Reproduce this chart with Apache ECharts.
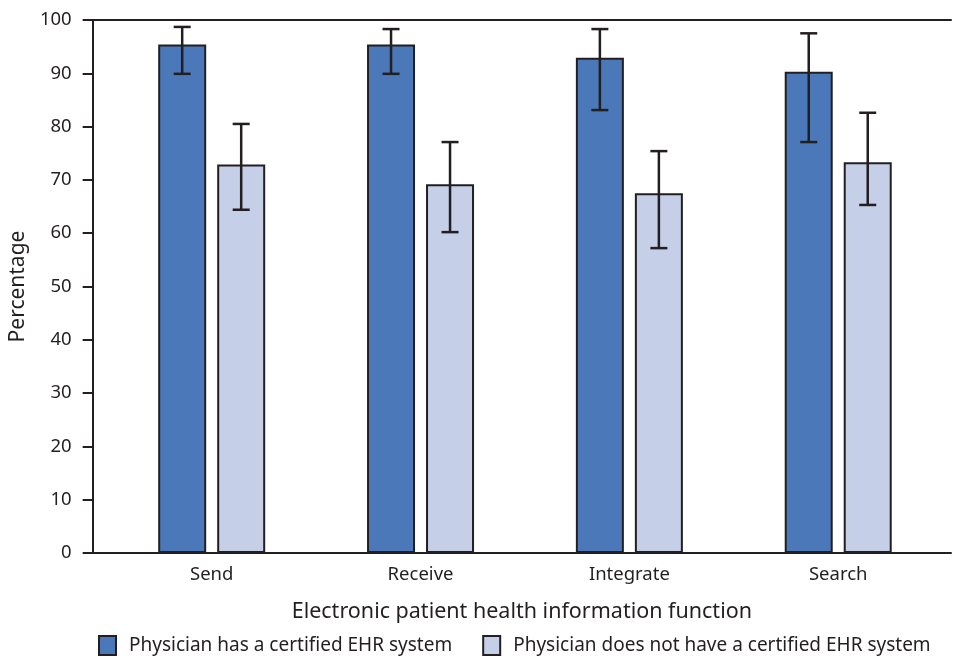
<!DOCTYPE html>
<html>
<head>
<meta charset="utf-8">
<script src="https://cdn.jsdelivr.net/npm/echarts@6/dist/echarts.min.js"></script>
<style>html,body{margin:0;padding:0;background:#fff;}#c{width:953px;height:658px;}</style>
</head>
<body>
<div id="c"></div>
<script>
var categories = ['Send', 'Receive', 'Integrate', 'Search'];
var hasEHR = [95.4, 95.4, 92.9, 90.3];
var hasEHRLow = [89.9, 89.9, 83.1, 77.1];
var hasEHRHigh = [98.7, 98.3, 98.3, 97.5];
var noEHR = [72.9, 69.2, 67.5, 73.3];
var noEHRLow = [64.4, 60.2, 57.2, 65.3];
var noEHRHigh = [80.5, 77.1, 75.4, 82.6];
var yTicks = [0, 10, 20, 30, 40, 50, 60, 70, 80, 90, 100];
var seriesNames = ['Physician has a certified EHR system', 'Physician does not have a certified EHR system'];

var FONT = '"Noto Sans", "Open Sans", sans-serif';
var INK = '#231f20';
var DARK = '#4a78b9';
var LIGHT = '#c5cfe8';
var BAR_W = 48, GAP = 11;

function pairs(vals) { return vals.map(function (v, i) { return [i, v]; }); }
function errData(lo, hi) { return lo.map(function (l, i) { return [i, l, hi[i]]; }); }
function errRender(shift) {
  return function (params, api) {
    var x = api.value(0);
    var p1 = api.coord([x, api.value(1)]);
    var p2 = api.coord([x, api.value(2)]);
    var cx = p1[0] + shift;
    var cap = 8.5;
    var st = { stroke: INK, lineWidth: 2.5, fill: null };
    return { type: 'group', children: [
      { type: 'line', shape: { x1: cx, y1: p1[1], x2: cx, y2: p2[1] }, style: st },
      { type: 'line', shape: { x1: cx - cap, y1: p1[1], x2: cx + cap, y2: p1[1] }, style: st },
      { type: 'line', shape: { x1: cx - cap, y1: p2[1], x2: cx + cap, y2: p2[1] }, style: st }
    ]};
  };
}

var chart = echarts.init(document.getElementById('c'), null, { renderer: 'canvas' });
chart.setOption({
  animation: false,
  textStyle: { fontFamily: FONT },
  grid: { left: 88, right: 2, top: 20, bottom: 105, containLabel: false },
  legend: {
    data: seriesNames,
    left: 98, top: 635, padding: 0,
    icon: 'rect',
    itemWidth: 17, itemHeight: 19, itemGap: 30,
    textStyle: { fontSize: 19, lineHeight: 20, color: INK, fontFamily: FONT, padding: [0, 0, 0, 8] },
    itemStyle: { borderColor: INK, borderWidth: 2 }
  },
  xAxis: [{
    type: 'value', min: -0.57, max: 3.54, position: 'bottom',
    name: 'Electronic patient health information function',
    nameLocation: 'middle', nameGap: 48,
    nameTextStyle: { fontSize: 21.5, color: INK, fontFamily: FONT },
    axisLine: { show: true, onZero: false, lineStyle: { color: INK, width: 2 } },
    axisTick: { show: false },
    splitLine: { show: false },
    axisLabel: {
      customValues: [0, 1, 2, 3],
      formatter: function (v) { return categories[Math.round(v)] || ''; },
      fontSize: 18.5, color: INK, margin: 12
    }
  }, {
    type: 'value', min: -0.57, max: 3.54, position: 'top',
    axisLine: { show: true, onZero: false, lineStyle: { color: INK, width: 2 } },
    axisTick: { show: false }, axisLabel: { show: false }, splitLine: { show: false }
  }],
  yAxis: {
    type: 'value', min: 0, max: 100, interval: 10,
    name: 'Percentage', nameLocation: 'middle', nameGap: 51,
    nameTextStyle: { fontSize: 21, color: INK, fontFamily: FONT },
    axisLine: { show: true, onZero: false, lineStyle: { color: INK, width: 2 } },
    axisTick: { show: true, length: 10, lineStyle: { color: INK, width: 2 } },
    splitLine: { show: false },
    axisLabel: { fontSize: 18.5, color: INK, margin: 21,
      customValues: yTicks }
  },
  series: [{
    name: seriesNames[0], type: 'bar', data: pairs(hasEHR),
    barWidth: BAR_W, barGap: (GAP / BAR_W * 100) + '%',
    itemStyle: { color: DARK, borderColor: INK, borderWidth: 2 }
  }, {
    name: seriesNames[1], type: 'bar', data: pairs(noEHR),
    barWidth: BAR_W, barGap: (GAP / BAR_W * 100) + '%',
    itemStyle: { color: LIGHT, borderColor: INK, borderWidth: 2 }
  }, {
    type: 'custom', name: 'err1', data: errData(hasEHRLow, hasEHRHigh),
    renderItem: errRender(-(BAR_W + GAP) / 2), z: 10, silent: true
  }, {
    type: 'custom', name: 'err2', data: errData(noEHRLow, noEHRHigh),
    renderItem: errRender((BAR_W + GAP) / 2), z: 10, silent: true
  }]
});
</script>
</body>
</html>
